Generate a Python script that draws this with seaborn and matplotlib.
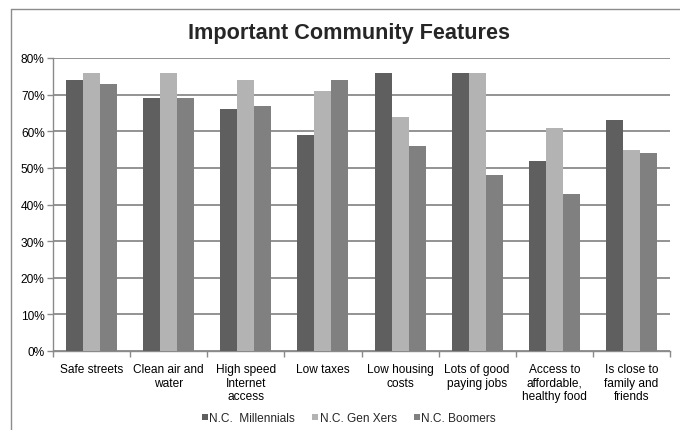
import matplotlib
matplotlib.use("Agg")
import matplotlib.pyplot as plt
from matplotlib.lines import Line2D
from matplotlib.ticker import FuncFormatter, FixedLocator, NullFormatter
import seaborn as sns
import pandas as pd

features = [
    "Safe streets",
    "Clean air and\nwater",
    "High speed\nInternet\naccess",
    "Low taxes",
    "Low housing\ncosts",
    "Lots of good\npaying jobs",
    "Access to\naffordable,\nhealthy food",
    "Is close to\nfamily and\nfriends",
]
groups = ["N.C.  Millennials", "N.C. Gen Xers", "N.C. Boomers"]
millennials = [74, 69, 66, 59, 76, 76, 52, 63]
gen_xers = [76, 76, 74, 71, 64, 76, 61, 55]
boomers = [73, 69, 67, 74, 56, 48, 43, 54]
colors = ["#5f5f5f", "#b3b3b3", "#808080"]

rows = []
for g, vals in zip(groups, [millennials, gen_xers, boomers]):
    for f, v in zip(features, vals):
        rows.append({"feature": f, "group": g, "value": v})
df = pd.DataFrame(rows)

sns.set_theme(style="white")
plt.rcParams["font.family"] = ["Liberation Sans", "DejaVu Sans"]

fig = plt.figure(figsize=(6.8, 4.31), dpi=100)
ax = fig.add_axes([53 / 680, 1 - 352 / 431, (670 - 53) / 680, (352 - 59) / 431])

sns.barplot(data=df, x="feature", y="value", hue="group", order=features,
            hue_order=groups, palette=colors, width=0.66, saturation=1,
            linewidth=0, ax=ax, legend=False, zorder=3)

grid_c = "#8a8a8a"
ax.set_ylim(0, 80)
ax.set_xlim(-0.5, len(features) - 0.5)
ax.set_yticks(range(0, 81, 10))
ax.yaxis.set_major_formatter(FuncFormatter(lambda v, p: f"{v:.0f}%"))
ax.grid(axis="y", color=grid_c, linewidth=1.3, zorder=0)
ax.set_axisbelow(True)
ax.set_xlabel("")
ax.set_ylabel("")

for s in ["top", "right"]:
    ax.spines[s].set_visible(False)
for s in ["left", "bottom"]:
    ax.spines[s].set_color(grid_c)
    ax.spines[s].set_linewidth(1.0)

ax.tick_params(axis="y", which="major", left=True, length=4, width=1,
               color=grid_c, labelsize=8.6, labelcolor="black", pad=2)
# category labels centred, boundary ticks between categories
ax.tick_params(axis="x", which="major", bottom=False, labelsize=8.6,
               labelcolor="black", pad=3)
ax.xaxis.set_minor_locator(FixedLocator([i - 0.5 for i in range(len(features) + 1)]))
ax.xaxis.set_minor_formatter(NullFormatter())
ax.tick_params(axis="x", which="minor", bottom=True, length=4, width=1,
               color=grid_c)
for lab in ax.get_xticklabels():
    lab.set_linespacing(1.15)

fig.text(349 / 680, 1 - 33 / 431, "Important Community Features",
         ha="center", va="center", fontsize=15.6, fontweight="bold")

handles = [Line2D([0], [0], marker="s", linestyle="none", markersize=5,
                  markerfacecolor=c, markeredgewidth=0) for c in colors]
fig.legend(handles, groups, loc="center", bbox_to_anchor=(349 / 680, 1 - 419 / 431),
           ncol=3, frameon=False, fontsize=8.6, handlelength=0.5,
           handletextpad=0.1, columnspacing=1.45)

# chart area border
fig.add_artist(Line2D([11 / 680, 1.0], [1 - 10 / 431, 1 - 10 / 431],
                      transform=fig.transFigure, color="#8c8c8c", linewidth=1.0))
fig.add_artist(Line2D([11 / 680, 11 / 680], [0, 1 - 10 / 431],
                      transform=fig.transFigure, color="#8c8c8c", linewidth=1.0))

fig.savefig("out.png", dpi=100, facecolor="white")
